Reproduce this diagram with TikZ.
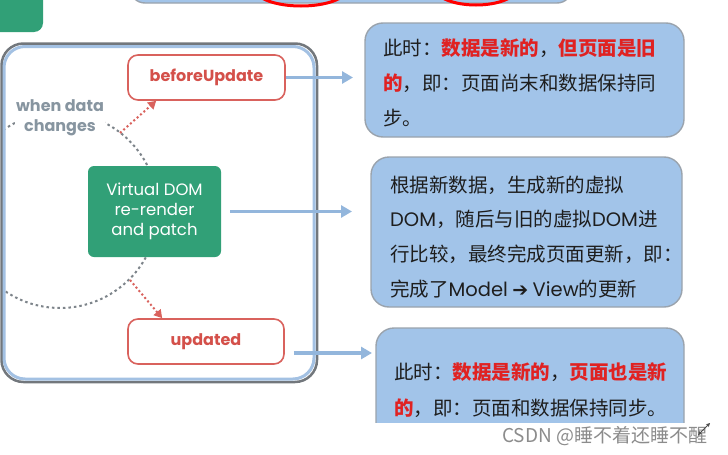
\documentclass[tikz,border=0pt]{standalone}
\usepackage{fontspec}
\setmainfont{Noto Sans CJK SC}
\newfontfamily\cjk{Noto Sans CJK SC}
\newfontfamily\pop{Poppins}
\newfontfamily\dvs{DejaVu Sans}
\usetikzlibrary{arrows.meta,calc}
\definecolor{hookred}{HTML}{D9625D}
\definecolor{hooktext}{HTML}{D4504A}
\definecolor{vgreen}{HTML}{31A077}
\definecolor{noteblue}{HTML}{A2C4E9}
\definecolor{noteedge}{HTML}{9AA3AD}
\definecolor{ink}{HTML}{1E1E1E}
\definecolor{hlred}{HTML}{E02222}
\definecolor{arrowblue}{HTML}{93B6DC}
\definecolor{dotgray}{HTML}{7D848A}
\definecolor{wgray}{HTML}{8795A0}
\definecolor{frameblue}{HTML}{A3C1E3}
\definecolor{frameshadow}{HTML}{72777C}
\newcommand\redb[1]{{\color{hlred}\bfseries #1}}
\tikzset{
  hook/.style={draw=hookred, line width=1.6pt, fill=white, rounded corners=10pt,
    text=hooktext, font=\pop\bfseries\fontsize{16}{19}\selectfont,
    minimum width=157pt, minimum height=45pt, inner sep=0pt},
  vdom/.style={fill=vgreen, rounded corners=6pt, text=white,
    font=\pop\fontsize{16.5}{20}\selectfont, align=center,
    minimum width=133pt, minimum height=91pt, inner sep=0pt},
  note/.style={fill=noteblue, draw=noteedge, line width=1.4pt, rounded corners=18pt, inner sep=0pt},
  ntxt/.style={anchor=base west, inner sep=0pt, text=ink, font=\cjk\fontsize{19.5}{24}\selectfont},
  bluearrow/.style={draw=arrowblue, line width=3.5pt, -{Triangle[length=11pt,width=12pt]}},
  reddot/.style={draw=hookred, line width=2pt, dash pattern=on 2pt off 2.5pt,
    -{Triangle[length=8pt,width=9pt]}},
  graydot/.style={draw=dotgray, line width=2pt, dash pattern=on 2.5pt off 3pt},
}
\begin{document}
\begin{tikzpicture}[x=1pt,y=-1pt]
\useasboundingbox (0,0) rectangle (728,455);
\fill[white] (0,0) rectangle (728,455);
\begin{scope}
\clip (0,0) rectangle (728,455);
% top leftovers
\fill[vgreen, rounded corners=9pt] (-30,-30) rectangle (43,32);
\draw[fill=noteblue, draw=noteedge, line width=1.4pt, rounded corners=15pt] (130,-40) rectangle (572,3);
\draw[red, line width=3pt] (301,-11) ellipse [x radius=46, y radius=17];
\draw[red, line width=3pt] (476,-11) ellipse [x radius=40, y radius=16];
% main frame
\draw[frameshadow, line width=2.5pt, rounded corners=22pt] (1.5,43.5) rectangle (317,382);
\draw[frameblue, fill=white, line width=3pt, rounded corners=21pt] (4,46.5) rectangle (314,379);
\begin{scope}
\clip[rounded corners=20pt] (5.5,48) rectangle (312.5,377.5);
\draw[graydot] (60,210) circle[radius=98];
\end{scope}
\node[fill=white, text=wgray, font=\pop\bfseries\fontsize{16}{20}\selectfont, align=center, inner sep=1pt] (wdc) at (60,118) {when data\\changes};
\node[vdom] (vd) at (154.5,211.5) {Virtual DOM\\re-render\\and patch};
\node[hook] (bu) at (206.5,77.5) {beforeUpdate};
\node[hook, minimum width=156pt] (up) at (206,341.5) {updated};
\coordinate (c1) at (120,133);
\coordinate (c2) at (130,280);
\draw[reddot] (c1) -- ([xshift=29pt]bu.south west);
\draw[reddot] (c2) -- ([xshift=35pt]up.north west);
% notes
\node[note, minimum width=319pt, minimum height=114pt] (n1) at (524.5,80) {};
\node[note, minimum width=311pt, minimum height=150pt] (n2) at (526.5,232) {};
\node[note, minimum width=308pt, minimum height=117pt] (n3) at (530,386.5) {};
\node[ntxt] (t11) at (383,55.5) {此时：\redb{数据是新的}，\redb{但页面是旧}};
\node[ntxt] (t12) at (383,90.5) {\redb{的}，即：页面尚末和数据保持同};
\node[ntxt] (t13) at (383,125.5) {步。};
\node[ntxt] (t21) at (390,192.5) {根据新数据，生成新的虚拟};
\node[ntxt] (t22) at (390,226) {{\pop DOM}，随后与旧的虚拟{\pop DOM}进};
\node[ntxt] (t23) at (390,261) {行比较，最终完成页面更新，即：};
\node[ntxt] (t24) at (390,296) {完成了{\pop Model} {\dvs\bfseries\fontsize{19}{20}\selectfont ➔} {\pop View}的更新};
\node[ntxt] (t31) at (394,379.5) {此时：\redb{数据是新的}，\redb{页面也是新}};
\node[ntxt] (t32) at (394,415.5) {\redb{的}，即：页面和数据保持同步。};
% blue arrows
\coordinate (a1) at (353,77.5);
\coordinate (a2) at (352,211.5);
\coordinate (a3) at (372,353);
\draw[bluearrow] (bu.east) -- (a1);
\draw[bluearrow] ([xshift=9pt]vd.east) -- (a2);
\draw[bluearrow] ($(up.east)+(9,11.5)$) -- (a3);
% bottom strip and watermark
\fill[white] (360,423) rectangle (728,455);
\node[anchor=west, inner sep=0pt, text=black!45, font=\cjk\fontsize{19}{22}\selectfont] (wm) at (502,436) {CSDN @睡不着还睡不醒};
\draw[black!70, line width=1pt, {Stealth[length=4pt,width=4pt]}-{Stealth[length=4pt,width=4pt]}] (698,435) -- (710,423);
\end{scope}
\end{tikzpicture}
\end{document}
